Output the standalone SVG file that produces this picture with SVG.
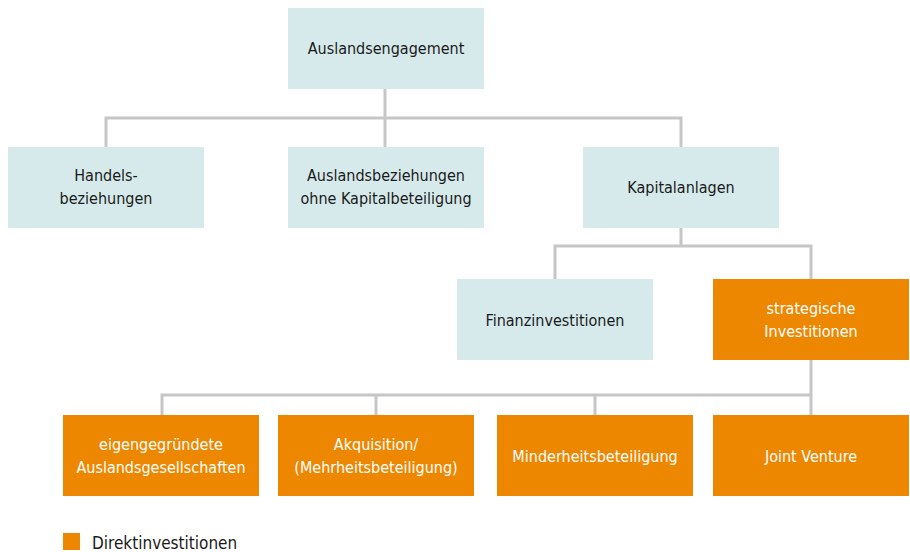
<svg xmlns="http://www.w3.org/2000/svg" width="910" height="552" viewBox="0 0 910 552">
<style>
.b{fill:#d6eaeb}
.o{fill:#ee8700}
text{font-family:"DejaVu Sans Condensed","Liberation Sans",sans-serif;font-size:16px;text-anchor:middle}
.d{fill:#1a1a1a}
.w{fill:#ffffff}
.c{stroke:#c6c6c6;stroke-width:3;fill:none}
</style>
<rect width="910" height="552" fill="#fff"/>
<g id="connectors" class="c">
<path d="M385 89V118M106 147V118H681V147M385 118V147"/>
<path d="M681 228V246M555 279V246H811V279"/>
<path d="M811 360V395M162 415V395H811V415M376 395V415M595 395V415"/>
</g>
<g id="n1"><rect class="b" x="288" y="8" width="196" height="81"/><text class="d" x="386" y="54">Auslandsengagement</text></g>
<g id="n2"><rect class="b" x="8" y="147" width="196" height="81"/><text class="d" x="106" y="181">Handels-</text><text class="d" x="106" y="204">beziehungen</text></g>
<g id="n3"><rect class="b" x="288" y="147" width="196" height="81"/><text class="d" x="386" y="181">Auslandsbeziehungen</text><text class="d" x="386" y="204">ohne Kapitalbeteiligung</text></g>
<g id="n4"><rect class="b" x="583" y="147" width="196" height="81"/><text class="d" x="681" y="193">Kapitalanlagen</text></g>
<g id="n5"><rect class="b" x="457" y="279" width="196" height="81"/><text class="d" x="555" y="326">Finanzinvestitionen</text></g>
<g id="n6"><rect class="o" x="713" y="279" width="196" height="81"/><text class="w" x="811" y="314">strategische</text><text class="w" x="811" y="337">Investitionen</text></g>
<g id="n7"><rect class="o" x="63" y="415" width="196" height="81"/><text class="w" x="161" y="450">eigengegründete</text><text class="w" x="161" y="473">Auslandsgesellschaften</text></g>
<g id="n8"><rect class="o" x="278" y="415" width="196" height="81"/><text class="w" x="376" y="450">Akquisition/</text><text class="w" x="376" y="473">(Mehrheitsbeteiligung)</text></g>
<g id="n9"><rect class="o" x="497" y="415" width="196" height="81"/><text class="w" x="595" y="462">Minderheitsbeteiligung</text></g>
<g id="n10"><rect class="o" x="713" y="415" width="196" height="81"/><text class="w" x="811" y="462">Joint Venture</text></g>
<g id="legend"><rect class="o" x="63" y="533" width="17" height="17"/><text class="d" x="92" y="549" style="text-anchor:start;font-size:17px">Direktinvestitionen</text></g>
</svg>
